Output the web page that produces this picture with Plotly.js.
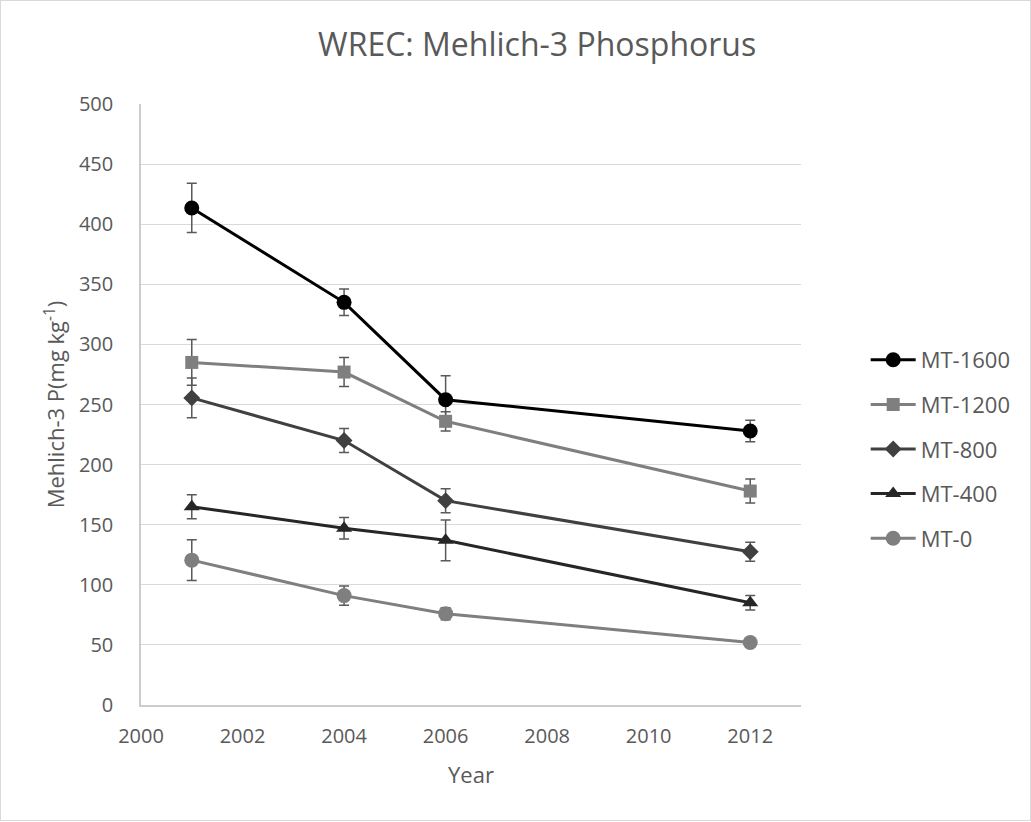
<!DOCTYPE html>
<html>
<head>
<meta charset="utf-8">
<script src="https://cdn.plot.ly/plotly-3.0.1.min.js"></script>
<style>
html,body{margin:0;padding:0;background:#fff;}
#frame{position:absolute;left:0;top:0;width:1029px;height:819px;border:1px solid #d9d9d9;}
#chart{position:absolute;left:0;top:0;width:1031px;height:822px;}
</style>
</head>
<body>
<div id="frame"></div>
<div id="chart"></div>
<script>
const years = [2001, 2004, 2006, 2012];
const seriesNames = ["MT-1600", "MT-1200", "MT-800", "MT-400", "MT-0"];
const mt1600 = [413.5, 335, 254, 228];
const mt1200 = [285, 277, 236, 178];
const mt800 = [255.5, 220, 170, 127.5];
const mt400 = [165, 147, 137, 85];
const mt0 = [120.5, 91, 76, 52];
const err1600 = [20.5, 11, 20, 9];
const err1200 = [19, 12, 8, 10];
const err800 = [16.5, 10, 10, 8];
const err400 = [10, 9, 17, 6];
const err0 = [17, 8, 5, 2];

const values = [mt1600, mt1200, mt800, mt400, mt0];
const errors = [err1600, err1200, err800, err400, err0];
const colors = ["#000000", "#7f7f7f", "#404040", "#262626", "#7f7f7f"];
const symbols = ["circle", "square", "diamond", "triangle-up", "circle"];
const sizes = [15, 13, 13, 14, 15];

const FONT = "Open Sans, Liberation Sans, sans-serif";
const traces = seriesNames.map((n, i) => ({
  x: years, y: values[i], name: n, type: "scatter", mode: "lines+markers",
  legendgroup: n,
  line: {color: colors[i], width: 3},
  marker: {symbol: symbols[i], size: sizes[i], color: colors[i]},
  error_y: {type: "data", array: errors[i], visible: true, color: "#595959", thickness: 1.5, width: 5}
}));

const layout = {
  width: 1031, height: 822,
  paper_bgcolor: "rgba(0,0,0,0)", plot_bgcolor: "#fff",
  margin: {l: 141, r: 230, t: 104, b: 117},
  font: {family: FONT, color: "#595959", size: 20},
  title: {text: "WREC: Mehlich-3 Phosphorus", font: {size: 32, color: "#595959", family: FONT}, x: 0.521, xanchor: "center", y: 0.945, yanchor: "middle"},
  xaxis: {
    range: [2000, 2013], dtick: 2, tick0: 2000, showgrid: false, zeroline: false,
    showline: true, linecolor: "#cccccc", linewidth: 1.5, ticks: "",
    tickfont: {size: 20, color: "#595959"}, ticklabelstandoff: 12,
    title: {text: "Year", font: {size: 22, color: "#595959"}, standoff: 20}
  },
  yaxis: {
    range: [0, 500], dtick: 50, showgrid: true, gridcolor: "#d9d9d9", gridwidth: 1,
    zeroline: false, showline: true, linecolor: "#cccccc", linewidth: 1.5, ticks: "",
    tickfont: {size: 20, color: "#595959"}, ticklabelstandoff: 22,
    title: {text: "Mehlich-3 P(mg kg<sup>-1</sup>)", font: {size: 22, color: "#595959"}, standoff: 8}
  },
  legend: {x: 1.098, xanchor: "left", y: 0.609, yanchor: "top", traceorder: "grouped",
    tracegroupgap: 13, itemwidth: 45, font: {size: 22, color: "#595959"}},
  showlegend: true
};
Plotly.newPlot("chart", traces, layout, {displayModeBar: false});
</script>
</body>
</html>
